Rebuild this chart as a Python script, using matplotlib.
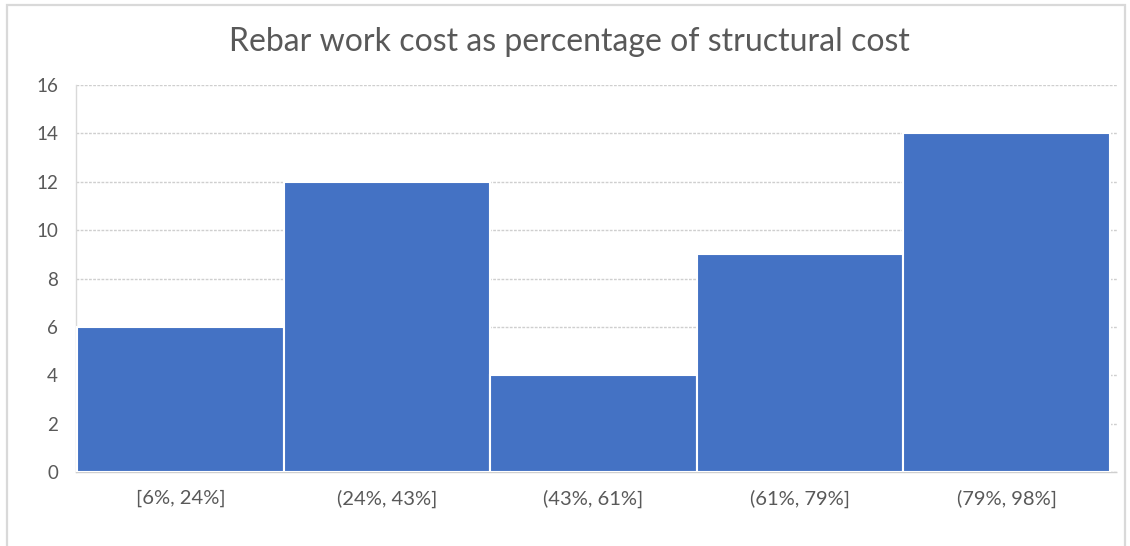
import matplotlib
matplotlib.use("Agg")
import matplotlib.pyplot as plt
from matplotlib.patches import Rectangle

plt.rcParams['font.family'] = ['Lato', 'DejaVu Sans']

# Histogram bins and counts
bins = ["[6%, 24%]", "(24%, 43%]", "(43%, 61%]", "(61%, 79%]", "(79%, 98%]"]
counts = [6, 12, 4, 9, 14]
y_ticks = [0, 2, 4, 6, 8, 10, 12, 14, 16]
title = "Rebar work cost as percentage of structural cost"

W, H = 1130, 546
fig = plt.figure(figsize=(W / 100, H / 100), dpi=100)
fig.patch.set_facecolor("white")

# Chart frame
fig.patches.append(Rectangle((7 / W, -0.02), (1125 - 7) / W, 1 - 5 / H + 0.02,
                             transform=fig.transFigure, fill=False,
                             edgecolor="#d9d9d9", linewidth=1.6))

ax = fig.add_axes([76 / W, 1 - 472 / H, (1117 - 76) / W, (472 - 85) / H])

x = list(range(len(bins)))
ax.bar(x, counts, width=1.0, color="#4472C4", edgecolor="white",
       linewidth=1.5, zorder=3)

ax.set_xlim(-0.505, 4.534)
ax.set_ylim(0, 16)
ax.set_yticks(y_ticks)
ax.set_xticks(x)
ax.set_xticklabels(bins)

ax.grid(axis="y", color="#cfcfcf", linestyle=(0, (2, 1)), linewidth=1.0, zorder=0)
ax.set_axisbelow(True)

for s in ["top", "right"]:
    ax.spines[s].set_visible(False)
ax.spines["left"].set_color("#d9d9d9")
ax.spines["left"].set_linewidth(1.0)
ax.spines["bottom"].set_color("#cfcfcf")
ax.spines["bottom"].set_linestyle((0, (2, 1)))
ax.spines["bottom"].set_linewidth(1.0)

ax.tick_params(axis="y", length=0, pad=13, labelsize=13.5, labelcolor="#595959")
ax.tick_params(axis="x", length=0, pad=13, labelsize=14.5, labelcolor="#595959")

fig.text(0.504, 1 - 42 / H, title, ha="center", va="center",
         fontsize=23, color="#595959")

fig.savefig("out.png", dpi=100, facecolor="white")
